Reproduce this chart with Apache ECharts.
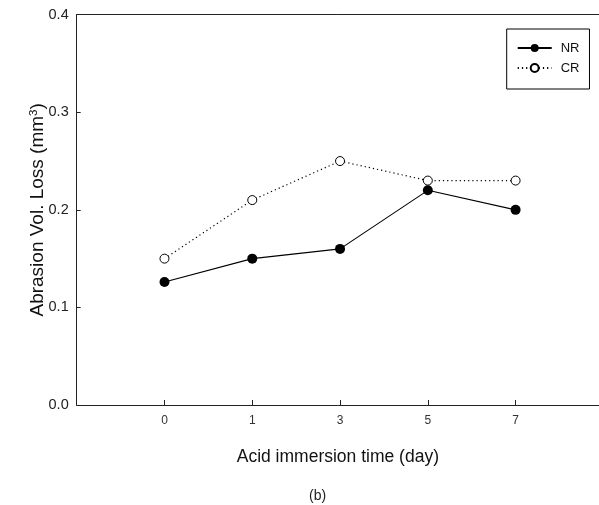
<!DOCTYPE html>
<html>
<head>
<meta charset="utf-8">
<script src="https://cdn.jsdelivr.net/npm/echarts@6/dist/echarts.min.js"></script>
<style>
html,body{margin:0;padding:0;background:#fff;}
#chart{width:599px;height:505px;}
</style>
</head>
<body>
<div id="chart"></div>
<script>
// Data
var categories = ['0', '1', '3', '5', '7'];
var nrValues = [0.126, 0.150, 0.160, 0.220, 0.200];
var crValues = [0.150, 0.210, 0.250, 0.230, 0.230];
var yTicks = [0.0, 0.1, 0.2, 0.3, 0.4];

function pairs(vals) {
  return vals.map(function (v, i) { return [i, v]; });
}

var chart = echarts.init(document.getElementById('chart'), null, {renderer: 'canvas'});
var FONT = '"Liberation Sans", Arial, sans-serif';

var option = {
  backgroundColor: '#fff',
  animation: false,
  textStyle: {fontFamily: FONT},
  title: {
    text: '(b)',
    left: 304,
    top: 484,
    textStyle: {fontFamily: FONT, fontSize: 14, fontWeight: 'normal', color: '#222'}
  },
  grid: {left: 76.7, top: 14.7, right: 0, bottom: 100, containLabel: false},
  legend: {
    orient: 'vertical',
    left: 506.7,
    top: 29,
    padding: [12, 10, 14, 10],
    itemGap: 6,
    itemWidth: 34,
    itemHeight: 10,
    borderColor: '#000',
    borderWidth: 1,
    textStyle: {fontFamily: FONT, fontSize: 13, color: '#111', lineHeight: 14, padding: [0, 0, 0, 4]},
    data: ['NR', 'CR']
  },
  xAxis: [{
    type: 'value',
    min: -1,
    max: 4.95,
    interval: 1,
    position: 'bottom',
    name: 'Acid immersion time (day)',
    nameLocation: 'middle',
    nameGap: 43,
    nameMoveOverlap: false,
    nameTextStyle: {fontFamily: FONT, fontSize: 17.5, color: '#111'},
    axisLine: {show: true, onZero: false, lineStyle: {color: '#222', width: 1}},
    axisTick: {show: true, inside: true, length: 5, lineStyle: {color: '#222'}},
    splitLine: {show: false},
    axisLabel: {
      show: true,
      margin: 10,
      fontSize: 12,
      color: '#333',
      fontFamily: FONT,
      showMinLabel: false,
      showMaxLabel: false,
      formatter: function (v) {
        var i = Math.round(v);
        if (Math.abs(v - i) > 1e-6 || i < 0 || i >= categories.length) return '';
        return categories[i];
      }
    }
  }, {
    type: 'value',
    min: -1,
    max: 4.95,
    position: 'top',
    axisLine: {show: true, onZero: false, lineStyle: {color: '#222', width: 1}},
    axisTick: {show: false},
    axisLabel: {show: false},
    splitLine: {show: false}
  }],
  yAxis: {
    type: 'value',
    min: yTicks[0],
    max: yTicks[yTicks.length - 1],
    interval: 0.1,
    name: '{a|Abrasion Vol. Loss (mm}{s|3}{a|)}',
    nameLocation: 'middle',
    nameRotate: 90,
    nameGap: 28.5,
    nameMoveOverlap: false,
    nameTextStyle: {
      rich: {
        a: {fontFamily: FONT, fontSize: 19, color: '#111'},
        s: {fontFamily: FONT, fontSize: 11.5, color: '#111', verticalAlign: 'top', padding: [0, 0, 8, 0]}
      }
    },
    axisLine: {show: true, onZero: false, lineStyle: {color: '#222', width: 1}},
    axisTick: {show: true, inside: true, length: 4, lineStyle: {color: '#222'}},
    splitLine: {show: false},
    axisLabel: {
      margin: 8,
      fontSize: 14.5,
      color: '#222',
      fontFamily: FONT,
      formatter: function (v) { return v.toFixed(1); }
    }
  },
  series: [{
    name: 'NR',
    type: 'line',
    data: pairs(nrValues),
    symbol: 'circle',
    symbolSize: 10,
    itemStyle: {color: '#000'},
    lineStyle: {color: '#000', width: 1.1, type: 'solid'},
    z: 3
  }, {
    name: 'CR',
    type: 'line',
    data: pairs(crValues),
    symbol: 'circle',
    symbolSize: 9,
    itemStyle: {color: '#fff', borderColor: '#000', borderWidth: 1},
    lineStyle: {color: '#000', width: 1.2, type: [1.2, 3]},
    z: 2
  }]
};
chart.setOption(option);
</script>
</body>
</html>
